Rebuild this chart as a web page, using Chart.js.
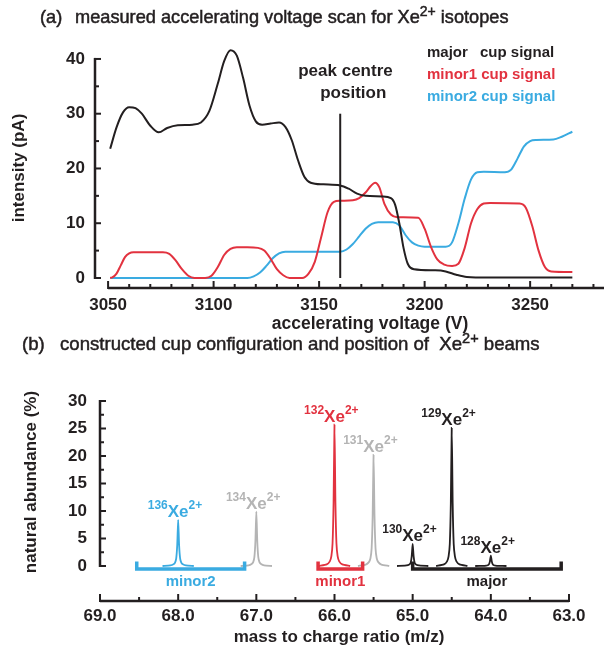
<!DOCTYPE html>
<html>
<head>
<meta charset="utf-8">
<script src="https://cdn.jsdelivr.net/npm/chart.js@4.4.1/dist/chart.umd.min.js"></script>
<style>
html, body { margin: 0; padding: 0; background: #fff; }
#wrap { position: relative; width: 604px; height: 650px; }
#wrap canvas { position: absolute; left: 0; top: 0; }
</style>
</head>
<body>
<div id="wrap">
<canvas id="scan" width="604" height="650"></canvas>
<canvas id="cups" width="604" height="650"></canvas>
</div>
<script>
// (a) accelerating voltage scan, one x/y pair per cup
var majorV = [3051, 3054, 3057, 3060, 3063, 3066, 3070, 3074, 3078, 3083, 3090, 3094, 3098, 3102, 3105, 3108, 3111, 3114, 3117, 3120, 3123, 3127, 3131, 3134, 3137, 3140, 3143, 3146, 3152, 3160, 3164, 3168, 3172, 3180, 3184, 3186, 3188, 3190, 3192, 3195, 3205, 3210, 3215, 3220, 3230, 3270];
var majorI = [23.6, 27.5, 30.2, 31.2, 31.0, 30.0, 27.8, 26.6, 27.4, 27.9, 28.0, 28.4, 30.5, 35.5, 39.6, 41.6, 40.6, 36.5, 31.5, 28.6, 28.0, 28.2, 28.4, 27.6, 25.2, 21.5, 18.5, 17.4, 17.1, 16.9, 16.3, 15.4, 15.0, 14.9, 14.6, 13.4, 10.0, 5.5, 2.6, 1.6, 1.4, 1.2, 0.6, 0.2, 0.1, 0.1];

var minor1V = [3051, 3052, 3054, 3056, 3058, 3060, 3062, 3070, 3076, 3079, 3082, 3085, 3088, 3091, 3096, 3099, 3102, 3105, 3108, 3111, 3116, 3121, 3124, 3127, 3130, 3133, 3136, 3142, 3145, 3148, 3151, 3154, 3157, 3160, 3166, 3169, 3172, 3174.5, 3176.5, 3178.5, 3181, 3184, 3187, 3197, 3200, 3203, 3206, 3209, 3213, 3216, 3219, 3222, 3225, 3228, 3231, 3245, 3248, 3251, 3254, 3257, 3260, 3270];
var minor1I = [0, 0.1, 0.8, 2.3, 3.8, 4.5, 4.7, 4.7, 4.7, 4.4, 3.2, 1.6, 0.4, 0, 0, 0.4, 2.0, 4.2, 5.3, 5.6, 5.6, 5.5, 5.0, 3.5, 1.6, 0.5, 0, 0, 0.8, 3.0, 7.5, 12.0, 13.9, 14.1, 14.2, 14.6, 15.6, 16.8, 17.4, 16.6, 13.5, 11.6, 11.1, 11.0, 9.0, 5.7, 3.4, 2.5, 2.2, 2.6, 5.5, 10.0, 12.6, 13.6, 13.7, 13.6, 12.8, 9.5, 5.0, 2.0, 1.2, 1.1];

var minor2V = [3051, 3116, 3119, 3122, 3125, 3128, 3131, 3134, 3160, 3163, 3166, 3169, 3172, 3175, 3178, 3185, 3188, 3191, 3194, 3197, 3200, 3210, 3213, 3216, 3219, 3222, 3225, 3228, 3238, 3241, 3244, 3247, 3250, 3253, 3261, 3265, 3270];
var minor2I = [0, 0, 0.3, 1.0, 2.2, 3.6, 4.5, 4.8, 4.8, 5.2, 6.2, 7.6, 9.0, 9.9, 10.2, 10.2, 9.6, 7.8, 6.5, 5.9, 5.7, 5.7, 6.5, 10.0, 14.5, 18.0, 19.3, 19.4, 19.3, 19.8, 21.8, 24.0, 25.0, 25.2, 25.3, 25.8, 26.7];

var peakCentreV = 3160;
var peakCentreSpan = [0, 30];
var scanTicksX = [3050, 3100, 3150, 3200, 3250];
var scanTicksY = [0, 10, 20, 30, 40];

// (b) Xe2+ beams and cups
var isotopes = ['136', '134', '132', '131', '130', '129', '128'];
var isoMass = [68.0, 67.0, 66.0, 65.5, 65.0, 64.5, 64.0];
var isoCup = ['minor2', 'none', 'minor1', 'none', 'major', 'major', 'major'];
var peakOffset = [-0.2, -0.1, -0.06, -0.04, -0.025, -0.012, 0, 0.012, 0.025, 0.04, 0.06, 0.1, 0.2];
var peak136 = [0, 0.1, 0.3, 0.6, 1.4, 3.8, 8.4, 3.8, 1.4, 0.6, 0.3, 0.1, 0];
var peak134 = [0, 0.1, 0.35, 0.7, 1.6, 4.5, 9.9, 4.5, 1.6, 0.7, 0.35, 0.1, 0];
var peak132 = [0, 0.3, 0.85, 1.8, 4.1, 11.5, 25.7, 11.5, 4.1, 1.8, 0.85, 0.3, 0];
var peak131 = [0, 0.25, 0.7, 1.4, 3.2, 9.1, 20.2, 9.1, 3.2, 1.4, 0.7, 0.25, 0];
var peak130 = [0, 0.05, 0.15, 0.3, 0.6, 1.8, 4.0, 1.8, 0.6, 0.3, 0.15, 0.05, 0];
var peak129 = [0, 0.3, 0.85, 1.8, 4.0, 11.3, 25.1, 11.3, 4.0, 1.8, 0.85, 0.3, 0];
var peak128 = [0, 0.03, 0.07, 0.14, 0.3, 0.85, 1.9, 0.85, 0.3, 0.14, 0.07, 0.03, 0];
var peaks = [peak136, peak134, peak132, peak131, peak130, peak129, peak128];

var cups = ['minor2', 'minor1', 'major'];
var cupHigh = [68.53, 66.21, 65.0];
var cupLow = [67.15, 65.64, 63.1];
var cupBase = -0.55;
var cupEdge = 0.8;

var massTicks = [69, 68, 67, 66, 65, 64, 63];
var abundTicks = [0, 5, 10, 15, 20, 25, 30];

var ink = '#231f20';
var red = '#e2323f';
var blue = '#3aabe1';
var grey = '#b4b4b4';
var cupColor = {major: ink, minor1: red, minor2: blue, none: grey};
var family = '"Liberation Sans", Arial, sans-serif';

Chart.defaults.font.family = family;
Chart.defaults.color = ink;

function pairs(xs, ys) {
	var out = [];
	for (var i = 0; i < xs.length; i++) out.push({x: xs[i], y: ys[i]});
	return out;
}

// draws text runs one after another on a shared baseline, slightly emboldened
function drawRuns(ctx, x, y, runs, color) {
	ctx.fillStyle = color;
	ctx.strokeStyle = color;
	ctx.lineWidth = 0.5;
	ctx.textAlign = 'left';
	ctx.textBaseline = 'alphabetic';
	for (var i = 0; i < runs.length; i++) {
		ctx.font = runs[i].font;
		ctx.fillText(runs[i].text, x, y + (runs[i].dy || 0));
		ctx.strokeText(runs[i].text, x, y + (runs[i].dy || 0));
		x += ctx.measureText(runs[i].text).width;
	}
	return x;
}

function centreText(ctx, text, x, y, font, color, rotate) {
	ctx.save();
	ctx.translate(x, y);
	if (rotate) ctx.rotate(-Math.PI / 2);
	ctx.font = font;
	ctx.fillStyle = color;
	ctx.textAlign = 'center';
	ctx.textBaseline = 'middle';
	ctx.fillText(text, 0, 0);
	ctx.restore();
}

// detached axis lines with inward ticks
var spines = {
	id: 'spines',
	afterDatasetsDraw: function(chart, args, o) {
		var ctx = chart.ctx, xs = chart.scales.x, ys = chart.scales.y, area = chart.chartArea;
		var i, n, v, p;
		ctx.save();
		ctx.strokeStyle = ink;
		ctx.lineCap = 'butt';

		// x axis along the bottom
		var y0 = area.bottom;
		ctx.lineWidth = 2.5;
		ctx.beginPath();
		ctx.moveTo(xs.getPixelForValue(o.xFrom), y0);
		ctx.lineTo(xs.getPixelForValue(o.xTo), y0);
		ctx.stroke();
		ctx.lineWidth = 2;
		n = Math.round(Math.abs(o.xLast - o.xFrom) / o.xMinor);
		for (i = 0; i <= n; i++) {
			v = o.xFrom + (o.xLast > o.xFrom ? 1 : -1) * i * o.xMinor;
			p = xs.getPixelForValue(v);
			var len = (i % o.xEvery === 0) ? 7 : 4;
			ctx.beginPath();
			ctx.moveTo(p, y0 + 1);
			ctx.lineTo(p, y0 - len);
			ctx.stroke();
		}

		// y axis on the left
		var x0 = area.left;
		ctx.lineWidth = 2.5;
		ctx.beginPath();
		ctx.moveTo(x0, ys.getPixelForValue(o.yFrom) + 1);
		ctx.lineTo(x0, ys.getPixelForValue(o.yTo) - 1);
		ctx.stroke();
		ctx.lineWidth = 2;
		n = Math.round((o.yTo - o.yFrom) / o.yMinor);
		for (i = 0; i <= n; i++) {
			p = ys.getPixelForValue(o.yFrom + i * o.yMinor);
			ctx.beginPath();
			ctx.moveTo(x0 - 1, p);
			ctx.lineTo(x0 + ((i % o.yEvery === 0) ? 6 : 4), p);
			ctx.stroke();
		}
		ctx.restore();
	}
};

// text for panel (a)
var scanText = {
	id: 'scanText',
	afterDraw: function(chart) {
		var ctx = chart.ctx, xs = chart.scales.x;
		var tf = '18.2px ' + family, sf = '14px ' + family;
		ctx.save();
		drawRuns(ctx, 40, 23, [{text: '(a)', font: tf}], ink);
		drawRuns(ctx, 75, 23, [
			{text: 'measured accelerating voltage scan for Xe', font: tf},
			{text: '2+', font: sf, dy: -7},
			{text: ' isotopes', font: tf}
		], ink);

		var lf = 'bold 15px ' + family;
		ctx.font = lf;
		ctx.textBaseline = 'middle';
		ctx.textAlign = 'left';
		ctx.fillStyle = ink;
		ctx.fillText('major', 427, 53);
		ctx.fillText('cup signal', 480, 53);
		ctx.fillStyle = red;
		ctx.fillText('minor1 cup signal', 427, 75);
		ctx.fillStyle = blue;
		ctx.fillText('minor2 cup signal', 427, 97);

		var pf = 'bold 17px ' + family;
		var px = xs.getPixelForValue(peakCentreV);
		ctx.font = pf;
		ctx.fillStyle = ink;
		ctx.fillText('peak centre', px - 42, 71);
		ctx.fillText('position', px - 20, 93);

		centreText(ctx, 'accelerating voltage (V)', 370, 324, 'bold 17.5px ' + family, ink);
		centreText(ctx, 'intensity (pA)', 19, 168, 'bold 17px ' + family, ink, true);
		ctx.restore();
	}
};

// text for panel (b)
var cupText = {
	id: 'cupText',
	afterDraw: function(chart) {
		var ctx = chart.ctx, xs = chart.scales.x, ys = chart.scales.y;
		var tf = '18.6px ' + family, sf = '14.5px ' + family;
		var i;
		ctx.save();
		drawRuns(ctx, 22, 350, [{text: '(b)', font: tf}], ink);
		drawRuns(ctx, 60, 350, [
			{text: 'constructed cup configuration and position of  Xe', font: tf},
			{text: '2+', font: sf, dy: -7},
			{text: ' beams', font: tf}
		], ink);

		// isotope labels above each peak
		for (i = 0; i < isotopes.length; i++) {
			var cx = xs.getPixelForValue(isoMass[i]);
			var top = ys.getPixelForValue(Math.max.apply(null, peaks[i]));
			var base = top - 2.5;
			ctx.fillStyle = cupColor[isoCup[i]];
			ctx.textBaseline = 'alphabetic';
			ctx.font = 'bold 17px ' + family;
			var w = ctx.measureText('Xe').width;
			ctx.textAlign = 'center';
			ctx.fillText('Xe', cx, base);
			ctx.font = 'bold 12px ' + family;
			ctx.textAlign = 'right';
			ctx.fillText(isotopes[i], cx - w / 2, base - 8.5);
			ctx.textAlign = 'left';
			ctx.fillText('2+', cx + w / 2, base - 8.5);
		}

		// cup names under brackets
		for (i = 0; i < cups.length; i++) {
			var mx = xs.getPixelForValue((cupHigh[i] + cupLow[i]) / 2);
			centreText(ctx, cups[i], mx, ys.getPixelForValue(cupBase) + 13, 'bold 15px ' + family, cupColor[cups[i]]);
		}

		centreText(ctx, 'mass to charge ratio (m/z)', 339, 637, 'bold 17px ' + family, ink);
		centreText(ctx, 'natural abundance (%)', 31, 482, 'bold 17px ' + family, ink, true);
		ctx.restore();
	}
};

function curve(label, xs, ys, color) {
	return {
		label: label,
		data: pairs(xs, ys),
		borderColor: color,
		borderWidth: 2,
		pointRadius: 0,
		fill: false,
		cubicInterpolationMode: 'monotone'
	};
}

var scanChart = new Chart(document.getElementById('scan').getContext('2d'), {
	type: 'line',
	data: {
		datasets: [
			{
				label: 'peak centre',
				data: [{x: peakCentreV, y: peakCentreSpan[0]}, {x: peakCentreV, y: peakCentreSpan[1]}],
				borderColor: ink,
				borderWidth: 2,
				pointRadius: 0,
				tension: 0
			},
			curve('major cup signal', majorV, majorI, ink),
			curve('minor1 cup signal', minor1V, minor1I, red),
			curve('minor2 cup signal', minor2V, minor2I, blue)
		]
	},
	options: {
		responsive: false,
		animation: false,
		events: [],
		layout: {padding: {top: 48, right: 0, left: 0, bottom: 0}},
		plugins: {
			legend: {display: false},
			tooltip: {enabled: false},
			spines: {xFrom: 3050, xTo: 3285, xLast: 3280, xMinor: 10, xEvery: 5, yFrom: 0, yTo: 40, yMinor: 5, yEvery: 2}
		},
		scales: {
			x: {
				type: 'linear', min: 3043.8, max: 3285,
				grid: {display: false, drawTicks: false},
				border: {display: false},
				ticks: {font: {size: 17, weight: 'bold'}, color: ink, padding: 7, maxRotation: 0, autoSkip: false,
					callback: function(v) { return String(v); }},
				afterBuildTicks: function(s) { s.ticks = scanTicksX.map(function(v) { return {value: v}; }); },
				afterFit: function(s) { s.height = 650 - 288; }
			},
			y: {
				type: 'linear', min: -1.83, max: 42,
				grid: {display: false, drawTicks: false},
				border: {display: false},
				ticks: {font: {size: 17, weight: 'bold'}, color: ink, padding: 10,
					callback: function(v) { return String(v); }},
				afterBuildTicks: function(s) { s.ticks = scanTicksY.map(function(v) { return {value: v}; }); },
				afterFit: function(s) { s.width = 95; }
			}
		}
	},
	plugins: [spines, scanText]
});

// brackets and peaks for panel (b)
var cupSets = [];
for (var c = 0; c < cups.length; c++) {
	cupSets.push({
		label: cups[c],
		data: [{x: cupHigh[c], y: cupEdge}, {x: cupHigh[c], y: cupBase}, {x: cupLow[c], y: cupBase}, {x: cupLow[c], y: cupEdge}],
		borderColor: cupColor[cups[c]],
		borderWidth: 3.5,
		borderJoinStyle: 'miter',
		pointRadius: 0,
		tension: 0,
		clip: false
	});
}
for (var k = 0; k < isotopes.length; k++) {
	var pts = [];
	for (var j = 0; j < peakOffset.length; j++) pts.push({x: isoMass[k] + peakOffset[j], y: peaks[k][j]});
	cupSets.push({
		label: isotopes[k] + 'Xe2+',
		data: pts,
		borderColor: cupColor[isoCup[k]],
		borderWidth: 1.8,
		pointRadius: 0,
		tension: 0.2
	});
}

var cupChart = new Chart(document.getElementById('cups').getContext('2d'), {
	type: 'line',
	data: {datasets: cupSets},
	options: {
		responsive: false,
		animation: false,
		events: [],
		layout: {padding: {top: 401, right: 35, left: 0, bottom: 0}},
		plugins: {
			legend: {display: false},
			tooltip: {enabled: false},
			spines: {xFrom: 69, xTo: 63, xLast: 63, xMinor: 0.5, xEvery: 2, yFrom: 0, yTo: 30, yMinor: 2.5, yEvery: 2}
		},
		scales: {
			x: {
				type: 'linear', min: 63, max: 69, reverse: true,
				grid: {display: false, drawTicks: false},
				border: {display: false},
				ticks: {font: {size: 17, weight: 'bold'}, color: ink, padding: 5, maxRotation: 0, autoSkip: false,
					callback: function(v) { return Number(v).toFixed(1); }},
				afterBuildTicks: function(s) { s.ticks = massTicks.map(function(v) { return {value: v}; }); },
				afterFit: function(s) { s.height = 650 - 601; }
			},
			y: {
				type: 'linear', min: -6.364, max: 30,
				grid: {display: false, drawTicks: false},
				border: {display: false},
				ticks: {font: {size: 17, weight: 'bold'}, color: ink, padding: 13,
					callback: function(v) { return String(v); }},
				afterBuildTicks: function(s) { s.ticks = abundTicks.map(function(v) { return {value: v}; }); },
				afterFit: function(s) { s.width = 100; }
			}
		}
	},
	plugins: [spines, cupText]
});
</script>
</body>
</html>
